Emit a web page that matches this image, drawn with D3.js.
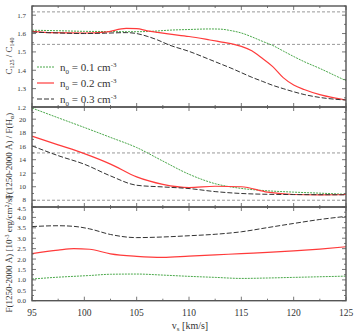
<!DOCTYPE html>
<html>
<head>
<meta charset="utf-8">
<script src="https://cdnjs.cloudflare.com/ajax/libs/d3/7.8.5/d3.min.js"></script>
<style>
  html, body { margin: 0; padding: 0; background: #fff; }
  svg text { font-family: "Liberation Serif", "DejaVu Serif", serif; fill: #333; }
</style>
</head>
<body>
<div id="page"></div>
<script>
(function() {

  "use strict";

  // shock velocity grid (km/s) for each panel
  var vs_top = [95, 97, 100, 102, 104, 105, 106, 107, 108, 110, 112, 113, 114, 115, 116, 117, 118, 119, 120, 121, 122.5, 124, 125];

  var ratio_n01 = [1.618, 1.616, 1.612, 1.611, 1.610, 1.610, 1.611, 1.614, 1.618, 1.622, 1.625, 1.624, 1.616, 1.603, 1.582, 1.558, 1.535, 1.505, 1.475, 1.447, 1.410, 1.370, 1.343];
  var ratio_n02 = [1.612, 1.605, 1.603, 1.608, 1.628, 1.627, 1.615, 1.606, 1.598, 1.584, 1.565, 1.555, 1.545, 1.530, 1.506, 1.465, 1.420, 1.360, 1.320, 1.295, 1.267, 1.248, 1.238];
  var ratio_n03 = [1.608, 1.604, 1.600, 1.602, 1.605, 1.600, 1.585, 1.565, 1.540, 1.503, 1.458, 1.435, 1.412, 1.387, 1.362, 1.340, 1.318, 1.300, 1.283, 1.268, 1.252, 1.242, 1.238];

  var vs_mid = [95, 97.5, 100, 102.5, 105, 107.5, 110, 112.5, 115, 117.5, 120, 122.5, 125];

  var uvha_n01 = [21.65, 20.2, 18.77, 17.3, 15.8, 13.8, 11.85, 10.45, 9.75, 9.40, 9.20, 9.05, 8.88];
  var uvha_n02 = [17.48, 16.2, 14.9, 13.35, 11.45, 10.35, 9.88, 10.07, 10.0, 9.2, 8.85, 8.80, 8.85];
  var uvha_n03 = [16.05, 14.6, 13.33, 11.6, 10.22, 9.97, 9.73, 9.28, 9.0, 8.88, 8.84, 8.82, 8.80];

  var vs_bot = [95, 97.5, 99, 100.5, 102.5, 105, 107.5, 110, 112.5, 115, 117.5, 120, 122.5, 125];

  var flux_n01 = [1.04, 1.13, 1.17, 1.21, 1.27, 1.28, 1.23, 1.17, 1.12, 1.07, 1.09, 1.12, 1.15, 1.18];
  var flux_n02 = [2.26, 2.43, 2.50, 2.47, 2.25, 2.13, 2.08, 2.14, 2.20, 2.26, 2.32, 2.39, 2.48, 2.59];
  var flux_n03 = [3.56, 3.60, 3.57, 3.45, 3.18, 3.03, 3.06, 3.12, 3.19, 3.31, 3.51, 3.71, 3.90, 4.05];

  var x_ticks = [95, 100, 105, 110, 115, 120, 125];
  var top_ticks = [1.2, 1.3, 1.4, 1.5, 1.6, 1.7];
  var mid_ticks = [8, 10, 12, 14, 16, 18, 20];
  var bot_ticks = [0, 0.5, 1, 1.5, 2, 2.5, 3, 3.5, 4, 4.5];

  var top_refs = [1.718, 1.541];
  var mid_refs = [15, 8];

  var legend_labels = ["0.1", "0.2", "0.3"];

  /* * * * * * * * * * * * * * * * * * * */

  var W = 356, H = 333,
    left = 32, right = 346;

  var styles = [
    { color: "#4aa84a", dash: "2,1", width: 1 },
    { color: "#ff3b3b", dash: null, width: 1.2 },
    { color: "#333333", dash: "5,2", width: 1 }
  ];

  var svg = d3.select("#page").append("svg")
    .attr("width", W)
    .attr("height", H);

  var x = d3.scaleLinear().domain([95, 125]).range([left, right]);

  var panels = [
    { y0: 6, y1: 107, domain: [1.2, 1.75], ticks: top_ticks, minor: 0.05, fmt: d3.format(".1f"),
      xs: vs_top, series: [ratio_n01, ratio_n02, ratio_n03], refs: top_refs },
    { y0: 107, y1: 207, domain: [7, 21.8], ticks: mid_ticks, minor: 1, fmt: d3.format("d"),
      xs: vs_mid, series: [uvha_n01, uvha_n02, uvha_n03], refs: mid_refs },
    { y0: 207, y1: 300.7, domain: [0, 4.5], ticks: bot_ticks, minor: 0.25, fmt: d3.format(".1f"),
      xs: vs_bot, series: [flux_n01, flux_n02, flux_n03], refs: [] }
  ];

  svg.append("defs").selectAll("clipPath")
    .data(panels)
    .enter().append("clipPath")
    .attr("id", function(p, i) { return "clip" + i; })
    .append("rect")
    .attr("x", left)
    .attr("y", function(p) { return p.y0; })
    .attr("width", right - left)
    .attr("height", function(p) { return p.y1 - p.y0; });

  var x_minor = d3.range(95, 125.01, 2.5);

  panels.forEach(function(p, i) {

    var y = d3.scaleLinear().domain(p.domain).range([p.y1, p.y0]);
    var g = svg.append("g");

    // reference levels
    g.selectAll(".ref")
      .data(p.refs)
      .enter().append("line")
      .attr("x1", left).attr("x2", right)
      .attr("y1", function(d) { return y(d); })
      .attr("y2", function(d) { return y(d); })
      .attr("stroke", "#999")
      .attr("stroke-width", 1)
      .attr("stroke-dasharray", "3,2");

    // curves
    var line = d3.line()
      .x(function(d) { return x(d[0]); })
      .y(function(d) { return y(d[1]); })
      .curve(d3.curveMonotoneX);

    p.series.forEach(function(s, k) {
      var pts = p.xs.map(function(v, j) { return [v, s[j]]; });
      g.append("path")
        .attr("d", line(pts))
        .attr("clip-path", "url(#clip" + i + ")")
        .attr("fill", "none")
        .attr("stroke", styles[k].color)
        .attr("stroke-width", styles[k].width)
        .attr("stroke-dasharray", styles[k].dash);
    });

    // inward ticks, all four sides
    var ymin = d3.range(p.domain[0], p.domain[1] + 1e-9, p.minor);
    ymin.forEach(function(v) {
      var major = p.ticks.some(function(t) { return Math.abs(t - v) < 1e-6; });
      var len = major ? 4 : 2;
      g.append("line").attr("x1", left).attr("x2", left + len)
        .attr("y1", y(v)).attr("y2", y(v)).attr("stroke", "#555").attr("stroke-width", 0.8);
      g.append("line").attr("x1", right).attr("x2", right - len)
        .attr("y1", y(v)).attr("y2", y(v)).attr("stroke", "#555").attr("stroke-width", 0.8);
    });
    x_minor.forEach(function(v) {
      var len = (v % 5 === 0) ? 4 : 2;
      g.append("line").attr("x1", x(v)).attr("x2", x(v))
        .attr("y1", p.y1).attr("y2", p.y1 - len).attr("stroke", "#555").attr("stroke-width", 0.8);
      g.append("line").attr("x1", x(v)).attr("x2", x(v))
        .attr("y1", p.y0).attr("y2", p.y0 + len).attr("stroke", "#555").attr("stroke-width", 0.8);
    });

    // y tick labels (nudge labels that sit on a shared panel edge)
    g.selectAll(".ylab")
      .data(p.ticks)
      .enter().append("text")
      .attr("x", left - 6)
      .attr("y", function(d) {
        var yy = y(d) + 2.5;
        if (i === 1 && d === 8) yy -= 1;
        if (i === 2 && d === 4.5) yy += 1.5;
        return yy;
      })
      .attr("text-anchor", "end")
      .attr("font-size", 7)
      .text(function(d) { return p.fmt(d); });

    // frame
    g.append("rect")
      .attr("x", left).attr("y", p.y0)
      .attr("width", right - left).attr("height", p.y1 - p.y0)
      .attr("fill", "none")
      .attr("stroke", "#555")
      .attr("stroke-width", 1.4);
  });

  /* * * * * * * * * * * * * * * * * * * */

  // x tick labels
  svg.selectAll(".xlab")
    .data(x_ticks)
    .enter().append("text")
    .attr("x", function(d) { return x(d); })
    .attr("y", 316)
    .attr("text-anchor", "middle")
    .attr("font-size", 9.5)
    .text(function(d) { return d; });

  var xl = svg.append("text")
    .attr("x", 190)
    .attr("y", 329)
    .attr("text-anchor", "middle")
    .attr("font-size", 10);
  xl.append("tspan").text("v");
  xl.append("tspan").attr("font-size", 7).attr("dy", 2).text("s");
  xl.append("tspan").attr("dy", -2).text(" [km/s]");

  // y axis labels
  function ylabel(cy, build) {
    var t = svg.append("text")
      .attr("transform", "translate(12," + cy + ") rotate(-90)")
      .attr("text-anchor", "middle")
      .attr("font-size", 9);
    build(t);
  }

  ylabel(56, function(t) {
    t.append("tspan").text("C");
    t.append("tspan").attr("font-size", 6).attr("dy", 2).text("125");
    t.append("tspan").attr("dy", -2).text(" / C");
    t.append("tspan").attr("font-size", 6).attr("dy", 2).text("140");
  });

  ylabel(156, function(t) {
    t.append("tspan").text("F(1250-2000 \u00c5) / F(H");
    t.append("tspan").attr("font-size", 6).attr("dy", 2).text("\u03b1");
    t.append("tspan").attr("dy", -2).text(")");
  });

  ylabel(254, function(t) {
    t.append("tspan").text("F(1250-2000 \u00c5) [10");
    t.append("tspan").attr("font-size", 6).attr("dy", -3).text("-3");
    t.append("tspan").attr("dy", 3).text(" erg/cm");
    t.append("tspan").attr("font-size", 6).attr("dy", -3).text("2");
    t.append("tspan").attr("dy", 3).text("/s]");
  });

  /* * * * * * * * * * * * * * * * * * * */

  // legend
  var leg = svg.append("g").selectAll("g")
    .data(legend_labels)
    .enter().append("g")
    .attr("transform", function(d, i) { return "translate(0," + (67 + i * 16) + ")"; });

  leg.append("line")
    .attr("x1", 37).attr("x2", 54)
    .attr("y1", 0).attr("y2", 0)
    .attr("stroke", function(d, i) { return styles[i].color; })
    .attr("stroke-width", function(d, i) { return styles[i].width; })
    .attr("stroke-dasharray", function(d, i) { return styles[i].dash; });

  var lt = leg.append("text")
    .attr("x", 60)
    .attr("y", 4)
    .attr("font-size", 11);
  lt.append("tspan").text("n");
  lt.append("tspan").attr("font-size", 7).attr("dy", 2.5).text("0");
  lt.append("tspan").attr("dy", -2.5).text(function(d) { return " = " + d + " cm"; });
  lt.append("tspan").attr("font-size", 7).attr("dy", -4).text("-3");

})();
</script>
</body>
</html>
